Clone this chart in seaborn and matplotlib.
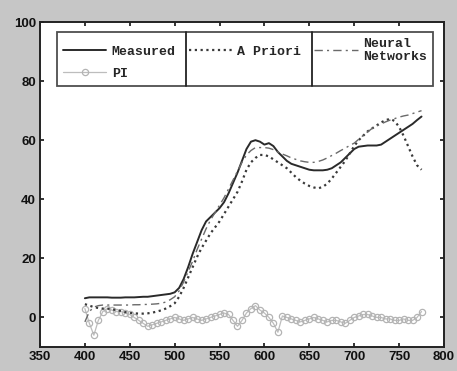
import numpy as np
import pandas as pd
import matplotlib
matplotlib.use("Agg")
import matplotlib.pyplot as plt
import seaborn as sns

wavelength = list(range(400, 780, 5))

measured = [6.5, 6.8, 6.8, 6.8, 6.8, 6.8, 6.7, 6.7, 6.7, 6.8, 6.8, 6.8, 6.9, 7.0, 7.0, 7.2,
            7.4, 7.6, 7.8, 8.0, 8.5, 10, 13, 17, 21.5, 25.5, 29.5, 32.5, 34, 35.5, 37, 39,
            42, 45.5, 49, 53, 57, 59.5, 60, 59.5, 58.5, 59, 58, 56, 54.5, 53, 52, 51.5,
            51, 50.5, 50, 49.8, 49.8, 49.8, 50, 50.5, 51.5, 52.5, 54, 55.5, 57, 57.8, 58,
            58.2, 58.2, 58.2, 58.5, 59.5, 60.5, 61.5, 62.5, 63.5, 64.5, 65.5, 66.8, 68]

a_priori = [4.5, 4, 3.5, 3.2, 3, 3, 2.8, 2.5, 2.2, 1.8, 1.5, 1.4, 1.3, 1.3, 1.4, 1.6,
            2.0, 2.4, 3, 3.8, 4.8, 7, 10, 13.5, 17, 20.5, 23.5, 26, 28.5, 30.5, 32.5, 35,
            37.5, 40, 42.5, 46, 50, 52.5, 54, 55, 55, 54.5, 53.5, 52.5, 51.5, 50.5, 49, 47.5,
            46.3, 45.3, 44.5, 44, 43.7, 44.2, 45.3, 47, 49, 51, 53, 55.5, 58, 60, 61.5,
            63, 64, 65, 66, 66.8, 67.2, 66.5, 64.5, 61.5, 58, 54.5, 51.5, 50]

neural = [-1.5, 2, 3.5, 4, 4.2, 4.2, 4.2, 4.2, 4.2, 4.2, 4.2, 4.3, 4.3, 4.4, 4.4, 4.5,
          4.6, 4.8, 5.2, 6, 7, 9, 12, 15.5, 19, 23, 26.5, 30, 33, 35.5, 38, 40.5,
          43.5, 46.5, 49.5, 52.5, 55, 56.5, 57.5, 57.5, 57.5, 57.3, 56.8, 56, 55.3, 54.7, 54, 53.5,
          53, 52.7, 52.5, 52.5, 52.8, 53.3, 54, 54.8, 55.6, 56.5, 57.3, 58.2, 59, 60.3, 61.6,
          62.8, 64, 64.8, 65.5, 66.2, 66.8, 67.3, 67.8, 68.2, 68.5, 69, 69.5, 70]

pi = [3, -2, -6, -1, 2, 3, 2.5, 2, 2, 1.5, 1, 0, -1, -2, -3, -2.5,
      -2, -1.5, -1, -0.5, 0, -0.5, -1, -0.5, 0, -0.5, -1, -0.5, 0, 0.5, 1, 1.5,
      1, -1, -3, -1, 1.5, 3, 4, 2.5, 1.5, 0, -2, -5, 0.5, 0, -0.5, -1,
      -1.5, -1, -0.5, 0, -0.5, -1, -1.5, -1, -1, -1.5, -2, -1, 0, 0.5, 1,
      1, 0.5, 0, 0, -0.5, -0.5, -1, -1, -0.5, -1, -1, 0, 2]

x_ticks = [350, 400, 450, 500, 550, 600, 650, 700, 750, 800]
y_ticks = [0, 20, 40, 60, 80, 100]

df = pd.DataFrame({"wavelength": wavelength, "Measured": measured, "A Priori": a_priori,
                   "Neural\nNetworks": neural, "PI": pi})

sns.set_style("ticks")
plt.rcParams["font.family"] = ["Liberation Sans", "DejaVu Sans"]

fig = plt.figure(figsize=(4.57, 3.71), dpi=100)
fig.patch.set_facecolor("#c6c6c6")
ax = fig.add_axes([0.0875, 0.0647, 0.884, 0.876])
ax.set_facecolor("white")

sns.lineplot(data=df, x="wavelength", y="Measured", ax=ax, color="#2a2a2a", lw=1.4,
             label="Measured")
sns.lineplot(data=df, x="wavelength", y="PI", ax=ax, color="#bdbdbd", lw=0.9,
             marker="o", markersize=4.5, markerfacecolor="none", markeredgecolor="#b4b4b4",
             markeredgewidth=0.9, label="PI")
sns.lineplot(data=df, x="wavelength", y="A Priori", ax=ax, color="#3a3a3a", lw=1.6,
             linestyle=(0, (1, 1.6)), label="A Priori")
sns.lineplot(data=df, x="wavelength", y="Neural\nNetworks", ax=ax, color="#6a6a6a", lw=1.0,
             linestyle=(0, (6, 3, 1.5, 3)), label="Neural\nNetworks")

ax.set_xlim(350, 800)
ax.set_ylim(-10, 100)
ax.set_xticks(x_ticks)
ax.set_yticks(y_ticks)
ax.set_xlabel("")
ax.set_ylabel("")
ax.tick_params(direction="in", top=True, right=True, length=3, width=1.2,
               labelsize=9.5, pad=3, colors="#111111")
for lab in ax.get_xticklabels() + ax.get_yticklabels():
    lab.set_fontweight("bold")
for sp in ax.spines.values():
    sp.set_linewidth(1.4)
    sp.set_color("#222222")

leg = ax.legend(ncol=3, loc="lower left", mode="expand",
                bbox_to_anchor=(0.042, 0.803, 0.931, 0.166),
                prop={"family": "Liberation Mono", "weight": "bold", "size": 9.5},
                frameon=True, fancybox=False, edgecolor="#222222",
                handlelength=3.3, handletextpad=0.4, columnspacing=0.6,
                borderpad=0.45, borderaxespad=0, labelspacing=0.75)
leg.get_frame().set_linewidth(1.3)
leg.set_zorder(5)

fig.canvas.draw()
bb = leg.get_window_extent().transformed(ax.transAxes.inverted())
for xf in (0.361, 0.673):
    ax.plot([xf, xf], [bb.y0, bb.y1], transform=ax.transAxes, color="#222222",
            lw=1.3, zorder=6, clip_on=False)

fig.savefig("out.png", dpi=100, facecolor=fig.get_facecolor())
